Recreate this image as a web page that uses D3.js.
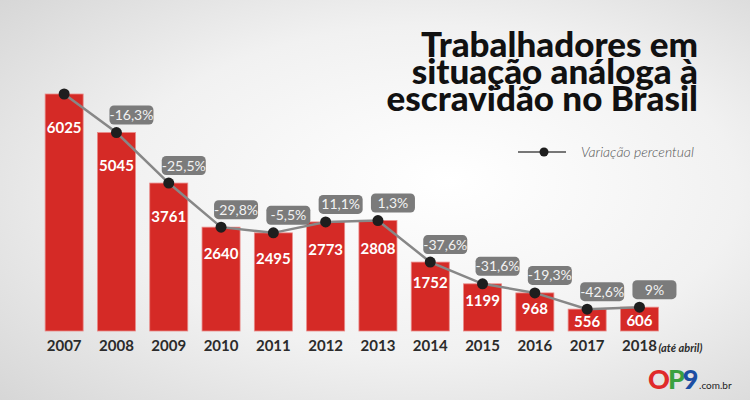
<!DOCTYPE html>
<html>
<head>
<meta charset="utf-8">
<script src="https://cdn.jsdelivr.net/npm/d3@7/dist/d3.min.js"></script>
<style>
  html, body { margin: 0; padding: 0; background: #eee; }
  svg { display: block; }
  text { font-family: Lato, "Open Sans", sans-serif; }
</style>
</head>
<body>
<svg id="chart" width="750" height="400"></svg>
<script>
const years = ["2007","2008","2009","2010","2011","2012","2013","2014","2015","2016","2017","2018"];
const workers = [6025, 5045, 3761, 2640, 2495, 2773, 2808, 1752, 1199, 968, 556, 606];
const variation = [null, "-16,3%", "-25,5%", "-29,8%", "-5,5%", "11,1%", "1,3%", "-37,6%", "-31,6%", "-19,3%", "-42,6%", "9%"];
const titleLines = ["Trabalhadores em", "situação análoga à", "escravidão no Brasil"];
const legendLabel = "Variação percentual";
const lastYearNote = "(até abril)";

const svg = d3.select("#chart");
const W = 750, H = 400;

// background
const defs = svg.append("defs");
const grad = defs.append("radialGradient").attr("id", "bg")
  .attr("cx", "55%").attr("cy", "50%").attr("r", "75%").attr("fx", "60%").attr("fy", "45%");
grad.append("stop").attr("offset", "0%").attr("stop-color", "#ffffff");
grad.append("stop").attr("offset", "55%").attr("stop-color", "#f1f1f1");
grad.append("stop").attr("offset", "100%").attr("stop-color", "#d6d6d6");
svg.append("rect").attr("width", W).attr("height", H).attr("fill", "url(#bg)");

const x = d3.scaleBand().domain(years).range([38, 665.6]).paddingInner(0.273).paddingOuter(0.1365);
const y = d3.scaleLinear().domain([0, 6025]).range([331, 94]);

const data = years.map((yr, i) => ({ year: yr, value: workers[i], pct: variation[i] }));
const cx = d => x(d.year) + x.bandwidth() / 2;

// bars
svg.append("g").selectAll("rect").data(data).join("rect")
  .attr("x", d => x(d.year))
  .attr("y", d => y(d.value))
  .attr("width", x.bandwidth())
  .attr("height", d => y(0) - y(d.value))
  .attr("fill", "#d52a26")
  .attr("stroke", "#e98a88")
  .attr("stroke-width", 0.8);

// value labels
svg.append("g").selectAll("text").data(data).join("text")
  .attr("x", cx)
  .attr("y", d => {
    const h = y(0) - y(d.value);
    return y(d.value) + Math.min(33, 9 + h * 0.17) + 5.5;
  })
  .attr("text-anchor", "middle")
  .attr("fill", "#fff")
  .attr("font-weight", 700)
  .attr("font-size", 15)
  .text(d => d.value);

// line
svg.append("path").datum(data)
  .attr("d", d3.line().x(cx).y(d => y(d.value)))
  .attr("fill", "none")
  .attr("stroke", "#878787")
  .attr("stroke-width", 2.5);

// percentage boxes
const pg = svg.append("g").selectAll("g").data(data.filter(d => d.pct)).join("g")
  .attr("transform", d => `translate(${cx(d) - 7},${y(d.value) - 8 - 19})`);
pg.append("rect").attr("width", 44).attr("height", 19).attr("rx", 4.5).attr("fill", "#7b7b7b");
pg.append("text").attr("x", 22).attr("y", 14.5).attr("text-anchor", "middle")
  .attr("fill", "#f2f2f2").attr("font-size", 14).text(d => d.pct);

// dots
svg.append("g").selectAll("circle").data(data).join("circle")
  .attr("cx", cx).attr("cy", d => y(d.value)).attr("r", 5.5).attr("fill", "#1e1e1e");

// year axis
const xAxis = d3.axisBottom(x).tickSize(0).tickPadding(0);
const ax = svg.append("g").attr("transform", "translate(0,340)").call(xAxis);
ax.select(".domain").remove();
ax.selectAll("text")
  .attr("font-family", "Lato, sans-serif")
  .attr("font-size", 15).attr("font-weight", 700).attr("fill", "#2b2b2b")
  .attr("dy", "0.75em");
svg.append("text")
  .attr("x", x("2018") + x.bandwidth()).attr("y", 351.5)
  .attr("font-size", 11).attr("font-weight", 700).attr("font-style", "italic").attr("fill", "#2b2b2b")
  .text(lastYearNote);

// title (one text element, three lines)
const title = svg.append("text")
  .attr("text-anchor", "end")
  .attr("font-size", 35).attr("font-weight", 900).attr("fill", "#111");
title.selectAll("tspan").data(titleLines).join("tspan")
  .attr("x", 698).attr("y", (d, i) => 57 + i * 27)
  .text(d => d);

// legend
svg.append("line").attr("x1", 518).attr("x2", 566).attr("y1", 152).attr("y2", 152)
  .attr("stroke", "#777").attr("stroke-width", 2);
svg.append("circle").attr("cx", 544).attr("cy", 152).attr("r", 4.5).attr("fill", "#1e1e1e");
svg.append("text").attr("x", 581).attr("y", 156.5)
  .attr("font-size", 14).attr("font-style", "italic").attr("font-weight", 300).attr("fill", "#555")
  .text(legendLabel);

// logo
const logo = svg.append("text").attr("x", 648).attr("y", 389).attr("font-weight", 900).attr("font-size", 27).attr("letter-spacing", -2);
logo.append("tspan").attr("fill", "#e02a2a").text("O");
logo.append("tspan").attr("fill", "#3aa140").text("P");
logo.append("tspan").attr("fill", "#1c4ea3").text("9");
logo.append("tspan").attr("fill", "#222").attr("font-size", 10).attr("font-weight", 400).attr("letter-spacing", 0).attr("dx", 2.5).text(".com.br");
</script>
</body>
</html>
